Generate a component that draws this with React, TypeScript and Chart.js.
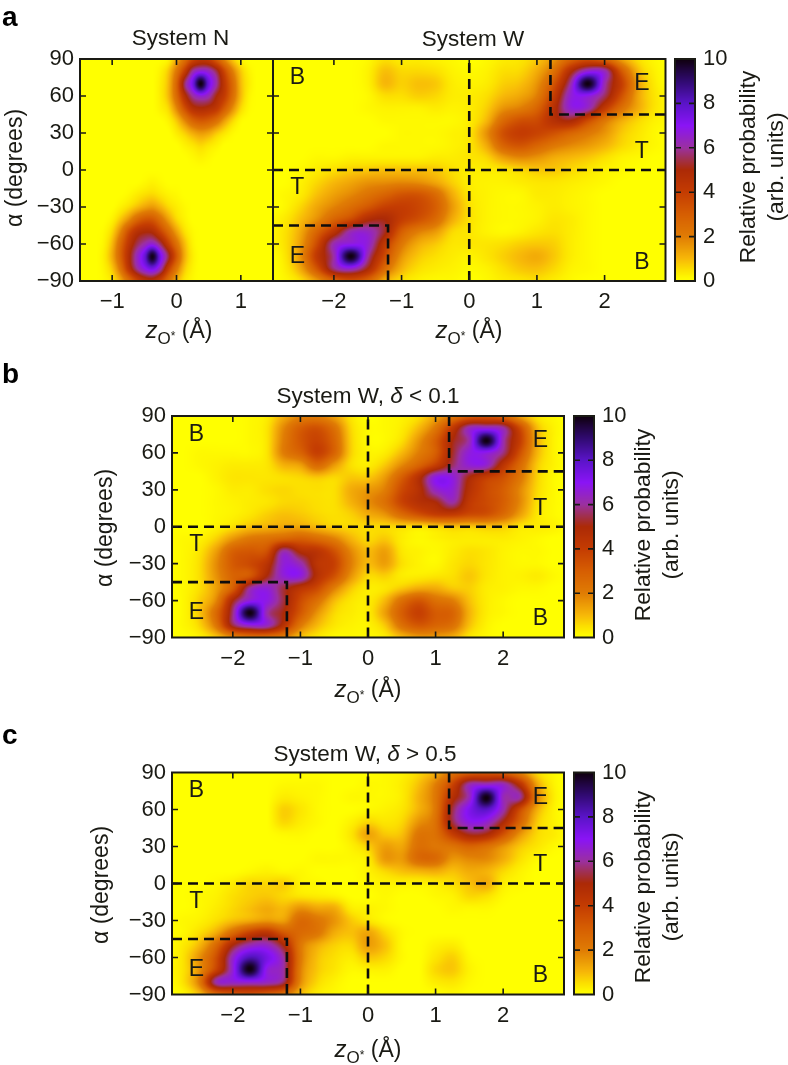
import React, { useEffect, useRef } from "react";
import { Chart, registerables } from "chart.js";

Chart.register(...registerables);

// ---------- data ----------
const alphaGrid = [90, 80, 70, 60, 50, 40, 30, 20, 10, 0, -10, -20, -30, -40, -50, -60, -70, -80, -90];
const zGridN = [-1.5, -1.375, -1.25, -1.125, -1, -0.875, -0.75, -0.625, -0.5, -0.375, -0.25, -0.125, 0, 0.125, 0.25, 0.375, 0.5, 0.625, 0.75, 0.875, 1, 1.125, 1.25, 1.375, 1.5];
const zGridW = [-3, -2.75, -2.5, -2.25, -2, -1.75, -1.5, -1.25, -1, -0.75, -0.5, -0.25, 0, 0.25, 0.5, 0.75, 1, 1.25, 1.5, 1.75, 2, 2.25, 2.5, 2.75, 3];

const systemN = [
  [0,0,0,0,0,0,0,0,0,0,0,.2,1.2,2.4,3.6,4.2,4,3,1.8,.8,.2,0,0,0,0],
  [0,0,0,0,0,0,0,0,0,0,.2,.8,2.2,4,6,6.7,6.4,5.4,3.6,2,.8,.2,0,0,0],
  [0,0,0,0,0,0,0,0,0,0,.3,1,2.8,5.6,7.4,10,7.6,6,4.2,2.6,1,.3,0,0,0],
  [0,0,0,0,0,0,0,0,0,0,.3,1,2.6,4.6,6,6.6,6.2,5,4,2.5,1,.2,0,0,0],
  [0,0,0,0,0,0,0,0,0,0,.2,.6,1.8,3.4,4.6,4.9,4.7,4.2,3,1.7,.6,.1,0,0,0],
  [0,0,0,0,0,0,0,0,0,0,0,.2,.8,1.8,2.8,3.2,3,2.4,1.4,.6,.1,0,0,0,0],
  [0,0,0,0,0,0,0,0,0,0,0,0,.3,.7,1.2,1.5,1.3,.8,.4,.1,0,0,0,0,0],
  [0,0,0,0,0,0,0,0,0,0,0,0,0,.2,.4,.6,.4,.2,0,0,0,0,0,0,0],
  [0,0,0,0,0,0,0,0,0,0,0,0,0,0,.1,.2,.1,0,0,0,0,0,0,0,0],
  [0,0,0,0,0,0,0,0,0,0,0,0,0,0,0,0,0,0,0,0,0,0,0,0,0],
  [0,0,0,0,0,0,0,0,.1,.2,.1,0,0,0,0,0,0,0,0,0,0,0,0,0,0],
  [0,0,0,0,0,0,.1,.3,.5,.6,.4,.2,.1,0,0,0,0,0,0,0,0,0,0,0,0],
  [0,0,0,0,0,.2,.5,.9,1.3,1.5,1.1,.6,.3,.1,0,0,0,0,0,0,0,0,0,0,0],
  [0,0,0,0,.2,.8,1.6,2.6,3.2,3.2,2.4,1.4,.6,.2,0,0,0,0,0,0,0,0,0,0,0],
  [0,0,0,.1,.6,1.8,3.4,4.5,4.9,4.8,3.8,2.6,1.4,.5,.1,0,0,0,0,0,0,0,0,0,0],
  [0,0,0,.2,1,2.6,4.2,5.4,6.1,6.6,5.6,4,2.4,1,.2,0,0,0,0,0,0,0,0,0,0],
  [0,0,0,.3,1.2,2.8,4.6,6.2,7.6,9.9,7.4,5.4,3.2,1.2,.3,0,0,0,0,0,0,0,0,0,0],
  [0,0,0,.2,.8,2.2,4.2,5.8,6.8,7.4,6.2,4,2.2,.8,.2,0,0,0,0,0,0,0,0,0,0],
  [0,0,0,.1,.4,1.2,2.4,3.6,4.4,4.6,3.8,2.4,1.2,.4,.1,0,0,0,0,0,0,0,0,0,0],
];

const systemW = [
  [0,0,0,0,0,0,.1,.5,.3,.3,.2,.1,0,.1,.3,.4,.8,1.6,2.8,3.4,2.8,1.4,.5,.1,0],
  [0,0,0,0,0,0,.2,.9,.6,.6,.5,.2,.1,.2,.5,.6,1.2,2.4,4.8,6.6,6.3,3.2,1,.2,0],
  [0,0,0,0,0,0,.2,1,.7,.9,.8,.3,.2,.3,.7,.9,1.6,3.3,6.1,10,6.2,4,1.4,.3,0],
  [0,0,0,0,0,0,.1,.5,.5,.7,.6,.3,.3,.5,1,1.3,2,4,6.6,6.8,5.6,3.4,1.3,.4,.1],
  [0,0,0,0,0,0,.1,.2,.2,.2,.3,.2,.3,.7,1.6,2,2.8,4.6,6.6,6.3,4.2,2.4,1.2,.4,.1],
  [0,0,0,0,0,0,0,.1,.1,.1,.1,.1,.3,1,2.6,3.4,3.6,4.6,5,3.6,2.2,1.2,.6,.2,.1],
  [0,0,0,0,0,0,0,0,.1,.1,.1,.2,.4,1.6,3.4,4,3.8,3.4,2.8,2.2,1.6,.8,.4,.1,0],
  [0,0,0,0,0,0,0,.1,.1,.1,.1,.2,.4,1.2,2.8,3.3,2.8,2.2,1.8,1.5,1.1,.6,.3,.1,0],
  [0,0,0,.1,.1,.2,.2,.2,.2,.2,.3,.3,.4,.6,1.4,1.8,1.6,1.2,1,.8,.5,.2,.1,0,0],
  [0,0,.1,.3,.5,.7,.8,.9,.9,.9,.8,.5,.3,.3,.4,.6,.8,.8,.6,.4,.2,.1,0,0,0],
  [0,0,.2,.6,1,1.3,1.6,1.7,1.8,1.7,1.3,.7,.3,.2,.2,.3,.4,.4,.3,.2,.1,0,0,0,0],
  [0,.1,.3,.9,1.4,1.8,2.3,2.8,3.3,3.3,2.6,1.2,.4,.2,.1,.1,.3,.3,.2,.1,0,0,0,0,0],
  [0,.1,.6,1.3,1.9,2.5,3.2,3.9,4,3.7,3,1.5,.5,.2,.1,.1,.2,.3,.2,.1,0,0,0,0,0],
  [.1,.3,.9,1.7,2.8,3.6,4.8,5,4,3.4,2.6,1.2,.5,.2,.1,.1,.2,.4,.3,.1,0,0,0,0,0],
  [.1,.4,1.2,2.8,4.4,6.2,6.4,5.2,3,2,1.5,.6,.4,.2,.1,.2,.4,.5,.3,.1,0,0,0,0,0],
  [.1,.4,1.4,3.6,6.2,6.8,6.6,4.2,2.2,1.2,.8,.4,.4,.4,.5,.7,.8,.7,.3,.1,0,0,0,0,0],
  [0,.3,1.6,4.2,6.1,10,6.1,3.6,1.6,.8,.5,.3,.2,.4,.7,1,1.2,.8,.3,.1,0,0,0,0,0],
  [0,.2,1.2,3.3,5.8,6.5,5,2.6,1.1,.5,.3,.2,.1,.2,.5,.8,.9,.6,.2,.1,0,0,0,0,0],
  [0,.1,.5,1.5,2.8,3.4,2.8,1.2,.5,.2,.1,.1,0,.1,.3,.4,.5,.3,.1,0,0,0,0,0,0],
];

const systemWLow = [
  [0,0,0,0,0,.1,.3,1.2,1.9,2,1.4,.4,0,.1,.2,.5,1.3,2.2,3,3.2,2.8,1.4,.4,.1,0],
  [0,0,0,0,0,.1,.4,1.8,3,3.4,2.4,.6,.1,.1,.3,1,2.2,4.2,6.3,6.6,6.1,3.6,1,.2,0],
  [0,0,0,0,0,.1,.4,2,3.2,3.8,2.8,.7,.1,.1,.5,1.6,3,5,6.2,10,6.2,4,1.2,.2,0],
  [0,0,.1,.1,.1,.1,.4,2,2.8,3.9,2.8,.7,.2,.3,1,2,3,5.2,6.7,6.8,5.8,3.4,1.1,.2,0],
  [0,0,.1,.2,.3,.3,.4,1.1,1.4,2.6,1.5,.5,.3,.8,1.8,2.8,4,5.6,6.6,6.5,4.4,2.6,.8,.2,0],
  [0,0,0,.2,.4,.4,.4,.5,.6,.8,.6,.8,.8,1.5,3,4.6,6.8,6.7,5,4,3.4,2.2,.7,.1,0],
  [0,0,0,.1,.3,.3,.5,.6,.5,.5,.5,1.2,1.5,2,3.6,4.6,6.4,6.6,4.6,3.6,3,1.8,.6,.1,0],
  [0,0,0,.1,.2,.3,.4,.6,.6,.5,.5,1.1,1.7,2.4,3.8,4.6,5,6.1,4.2,3.6,3,1.8,.5,.1,0],
  [0,0,0,.1,.2,.4,.7,.9,.8,.6,.5,.7,1.2,1.6,2.6,3.4,4,4.1,3.6,3.4,2.6,1.4,.4,.1,0],
  [0,0,0,.2,.5,.9,1.1,1.3,1.3,1,.7,.6,.6,.6,.6,.5,.7,.9,.8,.9,.8,.4,.3,.2,0],
  [0,.1,.2,.7,1.6,2.2,2.4,2.8,3,2.6,2,1.1,.6,.8,.3,.1,.2,.3,.3,.3,.3,.2,.1,0,0],
  [0,.1,.4,1.4,2.9,3.2,3.4,6.1,4.8,4.4,3.4,1.8,1,1.4,.4,.2,.1,.3,.5,.4,.2,.1,.1,0,0],
  [0,.1,.5,1.7,3.1,3.6,4.4,6.6,6.2,4.4,3.9,2,1,1.4,.5,.2,.1,.4,.6,.4,.2,.1,.1,0,0],
  [0,.1,.5,1.6,2.8,3.2,5,6.6,6.7,4.6,3.4,1.6,.6,.7,.3,.3,.4,.5,.8,.4,.2,.2,.3,.1,0],
  [0,.1,.5,1.4,3,6,6.6,5.4,4.4,3.6,2,.8,.3,.4,.8,1.2,1.2,.8,.7,.3,.2,.1,.1,0,0],
  [0,.1,.7,1.8,5,6.7,6.8,5.4,3.6,2.4,1,.4,.3,1,2.4,3.2,2.4,2,.9,.3,.1,0,0,0,0],
  [0,.1,.8,2.6,5.8,10,6.2,5,3.2,1.6,.6,.3,.3,1.4,3,3.9,3.1,2.8,1.1,.3,.1,0,0,0,0],
  [0,.1,.6,2.2,5.4,6.6,6.4,4.6,2.2,1,.4,.2,.2,.8,2.4,3.2,2.8,2.4,.9,.2,0,0,0,0,0],
  [0,0,.2,.8,1.8,2.4,2.4,2,.9,.4,.1,.1,.1,.3,1,1.5,1.5,1.2,.4,.1,0,0,0,0,0],
];

const systemWHigh = [
  [0,0,0,0,0,0,0,0,0,0,0,0,0,.1,.2,.6,1.2,2.4,3,3.2,3,2,.6,.1,0],
  [0,0,0,0,0,0,0,.1,.1,.1,0,0,.1,.1,.3,.9,2,3.8,6.2,6.5,6.4,4.6,1.4,.2,0],
  [0,0,0,0,0,0,0,.3,.2,.1,0,.1,.1,.1,.3,1.1,2.2,4.6,6.3,10,6.3,6,2,.3,0],
  [0,0,0,0,0,0,0,.7,.4,.1,0,0,.1,.2,.4,1.1,2.2,5.4,7.2,8,6.2,3.6,1.2,.2,0],
  [0,0,0,0,0,0,0,.6,.3,.1,0,.2,.6,.4,.6,1.6,2.4,5.4,6.8,6.6,5,2.8,.8,.2,0],
  [0,0,0,0,0,0,0,.1,.1,0,0,.4,1.3,.8,.9,2.2,2.4,4,5.2,5,3.4,1.6,.6,.3,0],
  [0,0,0,0,0,0,0,0,0,0,0,.2,.7,1.4,1.3,2.4,2.2,2.3,2.8,2.4,1.6,.8,.4,.1,0],
  [0,0,0,0,0,0,0,0,0,.1,.1,.1,.3,1.5,1.5,2.6,2.6,1.6,1.8,1.8,1.2,.5,.1,0,0],
  [0,0,0,0,0,.1,.2,.1,.1,0,0,0,.2,.6,.9,1.1,1.2,.9,1.2,1.1,.6,.2,0,0,0],
  [0,0,0,.1,.3,.6,.6,.7,.2,.1,0,0,.1,.2,.2,.2,.3,.5,.9,1.2,.3,.1,0,0,0],
  [0,0,.1,.2,.5,.7,.8,.6,.4,.3,.2,0,0,.1,0,0,.1,.2,.6,.5,.1,0,0,0,0],
  [0,0,.1,.3,.6,.9,1.2,1,1.6,1.3,1.2,.3,.2,.1,0,0,0,.1,.1,.1,0,0,0,0,0],
  [0,.1,.2,.5,.9,1.2,1.5,1.4,2.6,2.2,1.6,.8,.4,.1,0,0,0,0,0,0,0,0,0,0,0],
  [0,.1,.5,1.2,2.6,3.9,4.4,3.2,2.6,2.2,1.2,.9,1.3,.6,.1,0,0,0,0,0,0,0,0,0,0],
  [0,.3,1,2.6,5,6.2,6.4,5,2.2,1.2,.7,.6,1.4,.9,.1,0,.2,.3,0,0,0,0,0,0,0],
  [0,.4,1.6,3.4,6.4,8.2,7.4,6,2.2,.9,.5,.3,.8,.6,.1,0,.4,.7,.1,0,0,0,0,0,0],
  [.1,.4,1.6,3.8,6.6,10,6.8,6,2,.8,.4,.1,.2,.2,0,0,.6,.8,.2,0,0,0,0,0,0],
  [0,.4,2,6.1,6.5,6.6,6.4,5.6,1.8,.6,.2,0,0,0,0,0,.3,.4,.1,0,0,0,0,0,0],
  [0,.1,.9,2.6,3.2,3.4,3,2.4,1,.3,.1,0,0,0,0,0,0,.1,0,0,0,0,0,0,0],
];

const barLevels = [10, 9.5, 9, 8.5, 8, 7.5, 7, 6.5, 6, 5.5, 5, 4.5, 4, 3.5, 3, 2.5, 2, 1.5, 1, 0.5, 0];
const barSides = [0, 1];

const paletteLevels = [0, 0.5, 1, 2, 3, 4, 5, 5.5, 6, 7, 8, 9, 10];
const paletteColors = ["#ffff00", "#fce000", "#f7b808", "#e07c04", "#d65e02", "#c43c02", "#ac2a06", "#a03050", "#9b30a0", "#8a14f5", "#5a14c8", "#300a70", "#100010"];

const alphaTicks = [-90, -60, -30, 0, 30, 60, 90];
const zTicksN = [-1, 0, 1];
const zTicksW = [-2, -1, 0, 1, 2];
const barTicks = [0, 2, 4, 6, 8, 10];

const zeroV = [[0, -90], [0, 90]];
const zeroH = [[-2.9, 0], [2.9, 0]];
const boxUpper = [[1.2, 90], [1.2, 45], [2.9, 45]];
const boxLower = [[-2.9, -45], [-1.2, -45], [-1.2, -90]];

const regionLabels: [string, number, number][] = [
  ["B", -2.54, 75], ["T", -2.54, -14.5], ["E", -2.54, -70],
  ["E", 2.55, 70], ["T", 2.55, 15], ["B", 2.55, -75],
];

// ---------- drawing helpers ----------
const FONT = '"Liberation Sans", Arial, sans-serif';
const INK = "#1a1a14";
const PAGE_W = 788;
const PAGE_H = 1065;
const TICK_SIZE = 22;

const paletteRGB = paletteColors.map((c) => [1, 3, 5].map((i) => parseInt(c.slice(i, i + 2), 16)));

function colorOf(v: number) {
  const t = Math.max(0, Math.min(10, v));
  let i = 0;
  while (i < paletteLevels.length - 2 && t > paletteLevels[i + 1]) i++;
  const f = (t - paletteLevels[i]) / (paletteLevels[i + 1] - paletteLevels[i]);
  const a = paletteRGB[i];
  const b = paletteRGB[i + 1];
  return [a[0] + (b[0] - a[0]) * f, a[1] + (b[1] - a[1]) * f, a[2] + (b[2] - a[2]) * f];
}

function catmull(p0: number, p1: number, p2: number, p3: number, t: number) {
  return p1 + 0.5 * t * (p2 - p0 + t * (2 * p0 - 5 * p1 + 4 * p2 - p3 + t * (3 * (p1 - p2) + p3 - p0)));
}

const heatPlugin = {
  id: "heatShade",
  beforeDatasetsDraw(chart: any) {
    const pts = chart.data.datasets[0].data as { x: number; y: number; v: number }[];
    const xs = Array.from(new Set(pts.map((p) => p.x))).sort((a, b) => a - b);
    const ys = Array.from(new Set(pts.map((p) => p.y))).sort((a, b) => a - b);
    const nx = xs.length;
    const ny = ys.length;
    const val = new Float32Array(nx * ny);
    pts.forEach((p) => {
      val[ys.indexOf(p.y) * nx + xs.indexOf(p.x)] = p.v;
    });
    const at = (i: number, j: number) => val[Math.max(0, Math.min(ny - 1, j)) * nx + Math.max(0, Math.min(nx - 1, i))];
    const { left, right, top, bottom } = chart.chartArea;
    const w = Math.round(right - left);
    const h = Math.round(bottom - top);
    const off = document.createElement("canvas");
    off.width = w;
    off.height = h;
    const octx = off.getContext("2d")!;
    const img = octx.createImageData(w, h);
    const xScale = chart.scales.x;
    const yScale = chart.scales.y;
    const dx = (xs[nx - 1] - xs[0]) / (nx - 1);
    const dy = (ys[ny - 1] - ys[0]) / (ny - 1);
    for (let py = 0; py < h; py++) {
      const gy = (yScale.getValueForPixel(top + py + 0.5) - ys[0]) / dy;
      const j = Math.max(0, Math.min(ny - 2, Math.floor(gy)));
      const ty = gy - j;
      for (let px = 0; px < w; px++) {
        const gx = (xScale.getValueForPixel(left + px + 0.5) - xs[0]) / dx;
        const i = Math.max(0, Math.min(nx - 2, Math.floor(gx)));
        const tx = gx - i;
        const col = [0, 0, 0, 0];
        for (let k = 0; k < 4; k++) {
          col[k] = catmull(at(i - 1, j - 1 + k), at(i, j - 1 + k), at(i + 1, j - 1 + k), at(i + 2, j - 1 + k), tx);
        }
        const rgb = colorOf(catmull(col[0], col[1], col[2], col[3], ty));
        const o = (py * w + px) * 4;
        img.data[o] = rgb[0];
        img.data[o + 1] = rgb[1];
        img.data[o + 2] = rgb[2];
        img.data[o + 3] = 255;
      }
    }
    octx.putImageData(img, 0, 0);
    chart.ctx.drawImage(off, left, top);
  },
};

const framePlugin = {
  id: "frameTicks",
  afterDatasetsDraw(chart: any, _a: any, opts: any) {
    const { ctx, chartArea: ca } = chart;
    const len = 6;
    ctx.save();
    ctx.strokeStyle = INK;
    ctx.lineWidth = 1.6;
    ctx.beginPath();
    if (opts.xTicks) {
      chart.scales.x.ticks.forEach((t: any) => {
        const p = chart.scales.x.getPixelForValue(t.value);
        ctx.moveTo(p, ca.bottom);
        ctx.lineTo(p, ca.bottom - len);
        ctx.moveTo(p, ca.top);
        ctx.lineTo(p, ca.top + len);
      });
    }
    chart.scales.y.ticks.forEach((t: any) => {
      const p = chart.scales.y.getPixelForValue(t.value);
      if (Math.abs(p - ca.top) < 2 || Math.abs(p - ca.bottom) < 2) return;
      ctx.moveTo(ca.left, p);
      ctx.lineTo(ca.left + len, p);
      ctx.moveTo(ca.right, p);
      ctx.lineTo(ca.right - len, p);
    });
    ctx.stroke();
    ctx.lineWidth = 2;
    ctx.strokeRect(ca.left, ca.top, ca.right - ca.left, ca.bottom - ca.top);
    ctx.restore();
  },
};

type Seg = { t: string; italic?: boolean; size?: number; rise?: number };
type Rich = { segs: Seg[]; x: number; y: number; rot?: boolean; size: number };

function drawRich(ctx: CanvasRenderingContext2D, r: Rich) {
  const fontOf = (s: Seg) => `${s.italic ? "italic " : ""}${s.size ?? r.size}px ${FONT}`;
  let total = 0;
  r.segs.forEach((s) => {
    ctx.font = fontOf(s);
    total += ctx.measureText(s.t).width;
  });
  ctx.save();
  ctx.fillStyle = INK;
  ctx.textBaseline = "alphabetic";
  ctx.textAlign = "left";
  ctx.translate(r.x, r.y);
  if (r.rot) ctx.rotate(-Math.PI / 2);
  let cur = -total / 2;
  r.segs.forEach((s) => {
    ctx.font = fontOf(s);
    ctx.fillText(s.t, cur, -(s.rise ?? 0));
    cur += ctx.measureText(s.t).width;
  });
  ctx.restore();
}

const textPlugin = {
  id: "richText",
  afterDraw(chart: any, _a: any, opts: any) {
    const { ctx, scales } = chart;
    (opts.regions ? regionLabels : []).forEach(([txt, x, y]: [string, number, number]) => {
      ctx.save();
      ctx.font = `23px ${FONT}`;
      ctx.fillStyle = INK;
      ctx.textAlign = "center";
      ctx.textBaseline = "middle";
      ctx.fillText(txt, scales.x.getPixelForValue(x), scales.y.getPixelForValue(y));
      ctx.restore();
    });
    (opts.items ?? []).forEach((r: Rich) => drawRich(ctx, r));
  },
};

const zTitle = (x: number, y: number): Rich => ({
  x, y, size: 23,
  segs: [
    { t: "z", italic: true, size: 24 },
    { t: "O", size: 17, rise: -6 },
    { t: "*", size: 12, rise: -2 },
    { t: " (Å)" },
  ],
});
const alphaTitle = (x: number, y: number): Rich => ({ x, y, size: 23, rot: true, segs: [{ t: "α (degrees)" }] });
const barTitle = (x1: number, x2: number, y: number): Rich[] => [
  { x: x1, y, size: 22.8, rot: true, segs: [{ t: "Relative probability" }] },
  { x: x2, y, size: 22.8, rot: true, segs: [{ t: "(arb. units)" }] },
];
const plain = (t: string, x: number, y: number): Rich => ({ x, y, size: 22.5, segs: [{ t }] });
const deltaTitle = (pre: string, post: string, x: number, y: number): Rich => ({
  x, y, size: 22.5,
  segs: [{ t: pre }, { t: "δ", italic: true }, { t: post }],
});

const tickText = (v: any) => String(v).replace("-", "\u2212");

function cells(xs: number[], ys: number[], grid: number[][]) {
  const out: { x: number; y: number; v: number }[] = [];
  ys.forEach((y, j) => xs.forEach((x, i) => out.push({ x, y, v: grid[j][i] })));
  return out;
}

const dashed = (pts: number[][]) => ({
  type: "scatter",
  data: pts.map(([x, y]) => ({ x, y })),
  showLine: true,
  pointRadius: 0,
  borderColor: "#0d0d0d",
  borderWidth: 2.6,
  borderDash: [10, 6],
  tension: 0,
});

type Box = { l: number; t: number; r: number; b: number };

function plotConfig(o: {
  box: Box; xMax: number; zTicks: number[]; grid: number[][]; zs: number[];
  lines: number[][][]; regions: boolean; yLabels: boolean; items: Rich[];
}): any {
  const { l, t, r, b } = o.box;
  return {
    type: "scatter",
    data: {
      datasets: [
        { data: cells(o.zs, alphaGrid, o.grid), pointRadius: 0, showLine: false },
        ...o.lines.map(dashed),
      ],
    },
    plugins: [heatPlugin, framePlugin, textPlugin],
    options: {
      responsive: false,
      animation: false,
      events: [],
      layout: { padding: { left: 0, top: t, right: PAGE_W - r, bottom: 0 } },
      plugins: {
        legend: { display: false },
        tooltip: { enabled: false },
        frameTicks: { xTicks: true },
        richText: { regions: o.regions, items: o.items },
      },
      scales: {
        x: {
          type: "linear",
          min: -o.xMax,
          max: o.xMax,
          grid: { display: false, drawTicks: false },
          border: { display: false },
          afterBuildTicks: (s: any) => { s.ticks = o.zTicks.map((value) => ({ value })); },
          afterFit: (s: any) => { s.height = PAGE_H - b; },
          ticks: { callback: tickText, padding: 8, maxRotation: 0, autoSkip: false, color: INK, font: { family: FONT, size: TICK_SIZE } },
        },
        y: {
          type: "linear",
          min: -90,
          max: 90,
          grid: { display: false, drawTicks: false },
          border: { display: false },
          afterBuildTicks: (s: any) => { s.ticks = alphaTicks.map((value) => ({ value })); },
          afterFit: (s: any) => { s.width = l; },
          ticks: { display: o.yLabels, callback: tickText, padding: 6, autoSkip: false, color: INK, font: { family: FONT, size: TICK_SIZE } },
        },
      },
    },
  };
}

function barConfig(box: Box): any {
  const { t, l, r, b } = box;
  return {
    type: "scatter",
    data: { datasets: [{ data: cells(barSides, barLevels, barLevels.map((v) => [v, v])), pointRadius: 0, showLine: false }] },
    plugins: [heatPlugin, framePlugin],
    options: {
      responsive: false,
      animation: false,
      events: [],
      layout: { padding: { left: l, top: t, right: 0, bottom: PAGE_H - b } },
      plugins: { legend: { display: false }, tooltip: { enabled: false }, frameTicks: { xTicks: false } },
      scales: {
        x: { type: "linear", display: false, min: 0, max: 1 },
        y: {
          type: "linear",
          position: "right",
          min: 0,
          max: 10,
          grid: { display: false, drawTicks: false },
          border: { display: false },
          afterBuildTicks: (s: any) => { s.ticks = barTicks.map((value) => ({ value })); },
          afterFit: (s: any) => { s.width = PAGE_W - r; },
          ticks: { padding: 8, autoSkip: false, color: INK, font: { family: FONT, size: TICK_SIZE } },
        },
      },
    },
  };
}

const allLines = [zeroV, zeroH, boxUpper, boxLower];

const configs = (): any[] => [
  plotConfig({
    box: { l: 80, t: 59, r: 273, b: 281 }, xMax: 1.5, zTicks: zTicksN, grid: systemN, zs: zGridN,
    lines: [], regions: false, yLabels: true,
    items: [plain("System N", 180.5, 45), alphaTitle(22, 168), zTitle(179, 338)],
  }),
  plotConfig({
    box: { l: 273, t: 59, r: 665.5, b: 281 }, xMax: 2.9, zTicks: zTicksW, grid: systemW, zs: zGridW,
    lines: allLines, regions: true, yLabels: false,
    items: [plain("System W", 473, 46), zTitle(469, 338)],
  }),
  barConfig({ l: 675, t: 59, r: 695, b: 281 }),
  plotConfig({
    box: { l: 172, t: 416, r: 564, b: 637.5 }, xMax: 2.9, zTicks: zTicksW, grid: systemWLow, zs: zGridW,
    lines: allLines, regions: true, yLabels: true,
    items: [deltaTitle("System W, ", " < 0.1", 368, 403), alphaTitle(112, 528), zTitle(368, 697)],
  }),
  barConfig({ l: 574, t: 416, r: 594, b: 637.5 }),
  plotConfig({
    box: { l: 172, t: 772.5, r: 564, b: 994.5 }, xMax: 2.9, zTicks: zTicksW, grid: systemWHigh, zs: zGridW,
    lines: allLines, regions: true, yLabels: true,
    items: [deltaTitle("System W, ", " > 0.5", 365, 761), alphaTitle(108, 885), zTitle(368, 1057)],
  }),
  barConfig({ l: 574, t: 772.5, r: 594, b: 994.5 }),
  {
    type: "scatter",
    data: { datasets: [] },
    plugins: [textPlugin],
    options: {
      responsive: false,
      animation: false,
      events: [],
      plugins: {
        legend: { display: false },
        tooltip: { enabled: false },
        richText: {
          regions: false,
          items: [...barTitle(755, 783, 167), ...barTitle(650, 678, 525), ...barTitle(650, 678, 887)],
        },
      },
      scales: { x: { display: false }, y: { display: false } },
    },
  },
];

const panelLetters: [string, number][] = [["a", 27], ["b", 384], ["c", 745]];

export default function App() {
  const host = useRef<HTMLDivElement>(null);
  useEffect(() => {
    const charts: Chart[] = [];
    const canvases: HTMLCanvasElement[] = [];
    configs().forEach((cfg) => {
      const c = document.createElement("canvas");
      c.width = PAGE_W;
      c.height = PAGE_H;
      c.style.cssText = "position:absolute;left:0;top:0;";
      host.current!.appendChild(c);
      canvases.push(c);
      charts.push(new Chart(c, cfg));
    });
    return () => {
      charts.forEach((c) => c.destroy());
      canvases.forEach((c) => c.remove());
    };
  }, []);
  return (
    <div
      ref={host}
      style={{ position: "absolute", left: 0, top: 0, width: PAGE_W, height: PAGE_H, overflow: "hidden", background: "#fff" }}
    >
      {panelLetters.map(([t, base]) => (
        <div
          key={t}
          style={{ position: "absolute", left: 2, top: base - 26, lineHeight: "32px", fontFamily: FONT, fontWeight: 700, fontSize: 28, color: "#000", zIndex: 2 }}
        >
          {t}
        </div>
      ))}
    </div>
  );
}
